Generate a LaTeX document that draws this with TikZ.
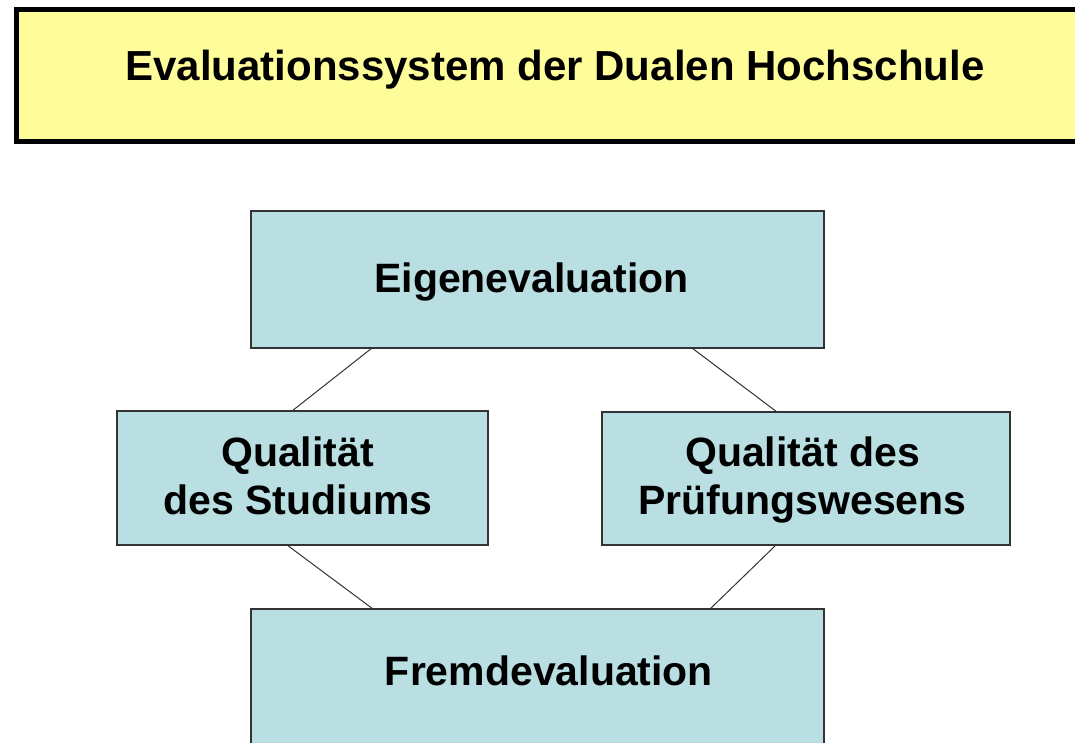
\documentclass[tikz,border=0pt]{standalone}
\usepackage{fontspec}
\setmainfont{Liberation Sans}
\usetikzlibrary{positioning}
\definecolor{titlefill}{HTML}{FFFD99}
\definecolor{boxfill}{HTML}{B9DFE3}
\definecolor{boxline}{HTML}{333333}
\tikzset{
  titlebox/.style={draw=black, line width=5pt, fill=titlefill, inner sep=0pt, outer sep=0pt},
  evalbox/.style={draw=boxline, line width=1.5pt, fill=boxfill, inner sep=0pt, outer sep=0pt},
  lbl/.style={font=\fontsize{41}{47}\selectfont\bfseries, inner sep=0pt, align=center},
  link/.style={draw=boxline, line width=1pt}
}
\begin{document}
\begin{tikzpicture}[x=1pt,y=-1pt]
\useasboundingbox (0,0) rectangle (1075,743);
\clip (0,0) rectangle (1075,743);
% title
\node[titlebox, minimum width=1080pt, minimum height=132.5pt, anchor=north west] (title) at (16.5,9.5) {};
\node[lbl, font=\fontsize{42}{47}\selectfont\bfseries, anchor=base] (titletext) at (555,81) {Evaluationssystem der Dualen Hochschule};
% boxes
\node[evalbox, minimum width=573pt, minimum height=137pt] (eigen) at (537.5,279.5) {};
\node[evalbox, minimum width=371pt, minimum height=134pt] (qs) at (302.5,478) {};
\node[evalbox, minimum width=408pt, minimum height=133pt] (qp) at (806,478.5) {};
\node[evalbox, minimum width=573pt, minimum height=200pt, anchor=north west] (fremd) at (251,609) {};
% texts
\node[lbl, anchor=base] (eigentext) at (531.5,292) {Eigenevaluation};
\node[lbl, anchor=base] (qstext1) at (297.5,466) {Qualität};
\node[lbl, anchor=base] (qstext2) at (298,514) {des Studiums};
\node[lbl, anchor=base] (qptext1) at (802.5,466) {Qualität des};
\node[lbl, anchor=base] (qptext2) at (802.5,514) {Prüfungswesens};
\node[lbl, anchor=base] (fremdtext) at (549,685) {Fremdevaluation};
% connectors
\draw[link] ([xshift=121pt]eigen.south west) -- ([xshift=175pt]qs.north west);
\draw[link] ([xshift=441pt]eigen.south west) -- ([xshift=175pt]qp.north west);
\draw[link] ([xshift=170pt]qs.south west) -- ([xshift=122pt]fremd.north west);
\draw[link] ([xshift=174pt]qp.south west) -- ([xshift=459pt]fremd.north west);
\end{tikzpicture}
\end{document}
